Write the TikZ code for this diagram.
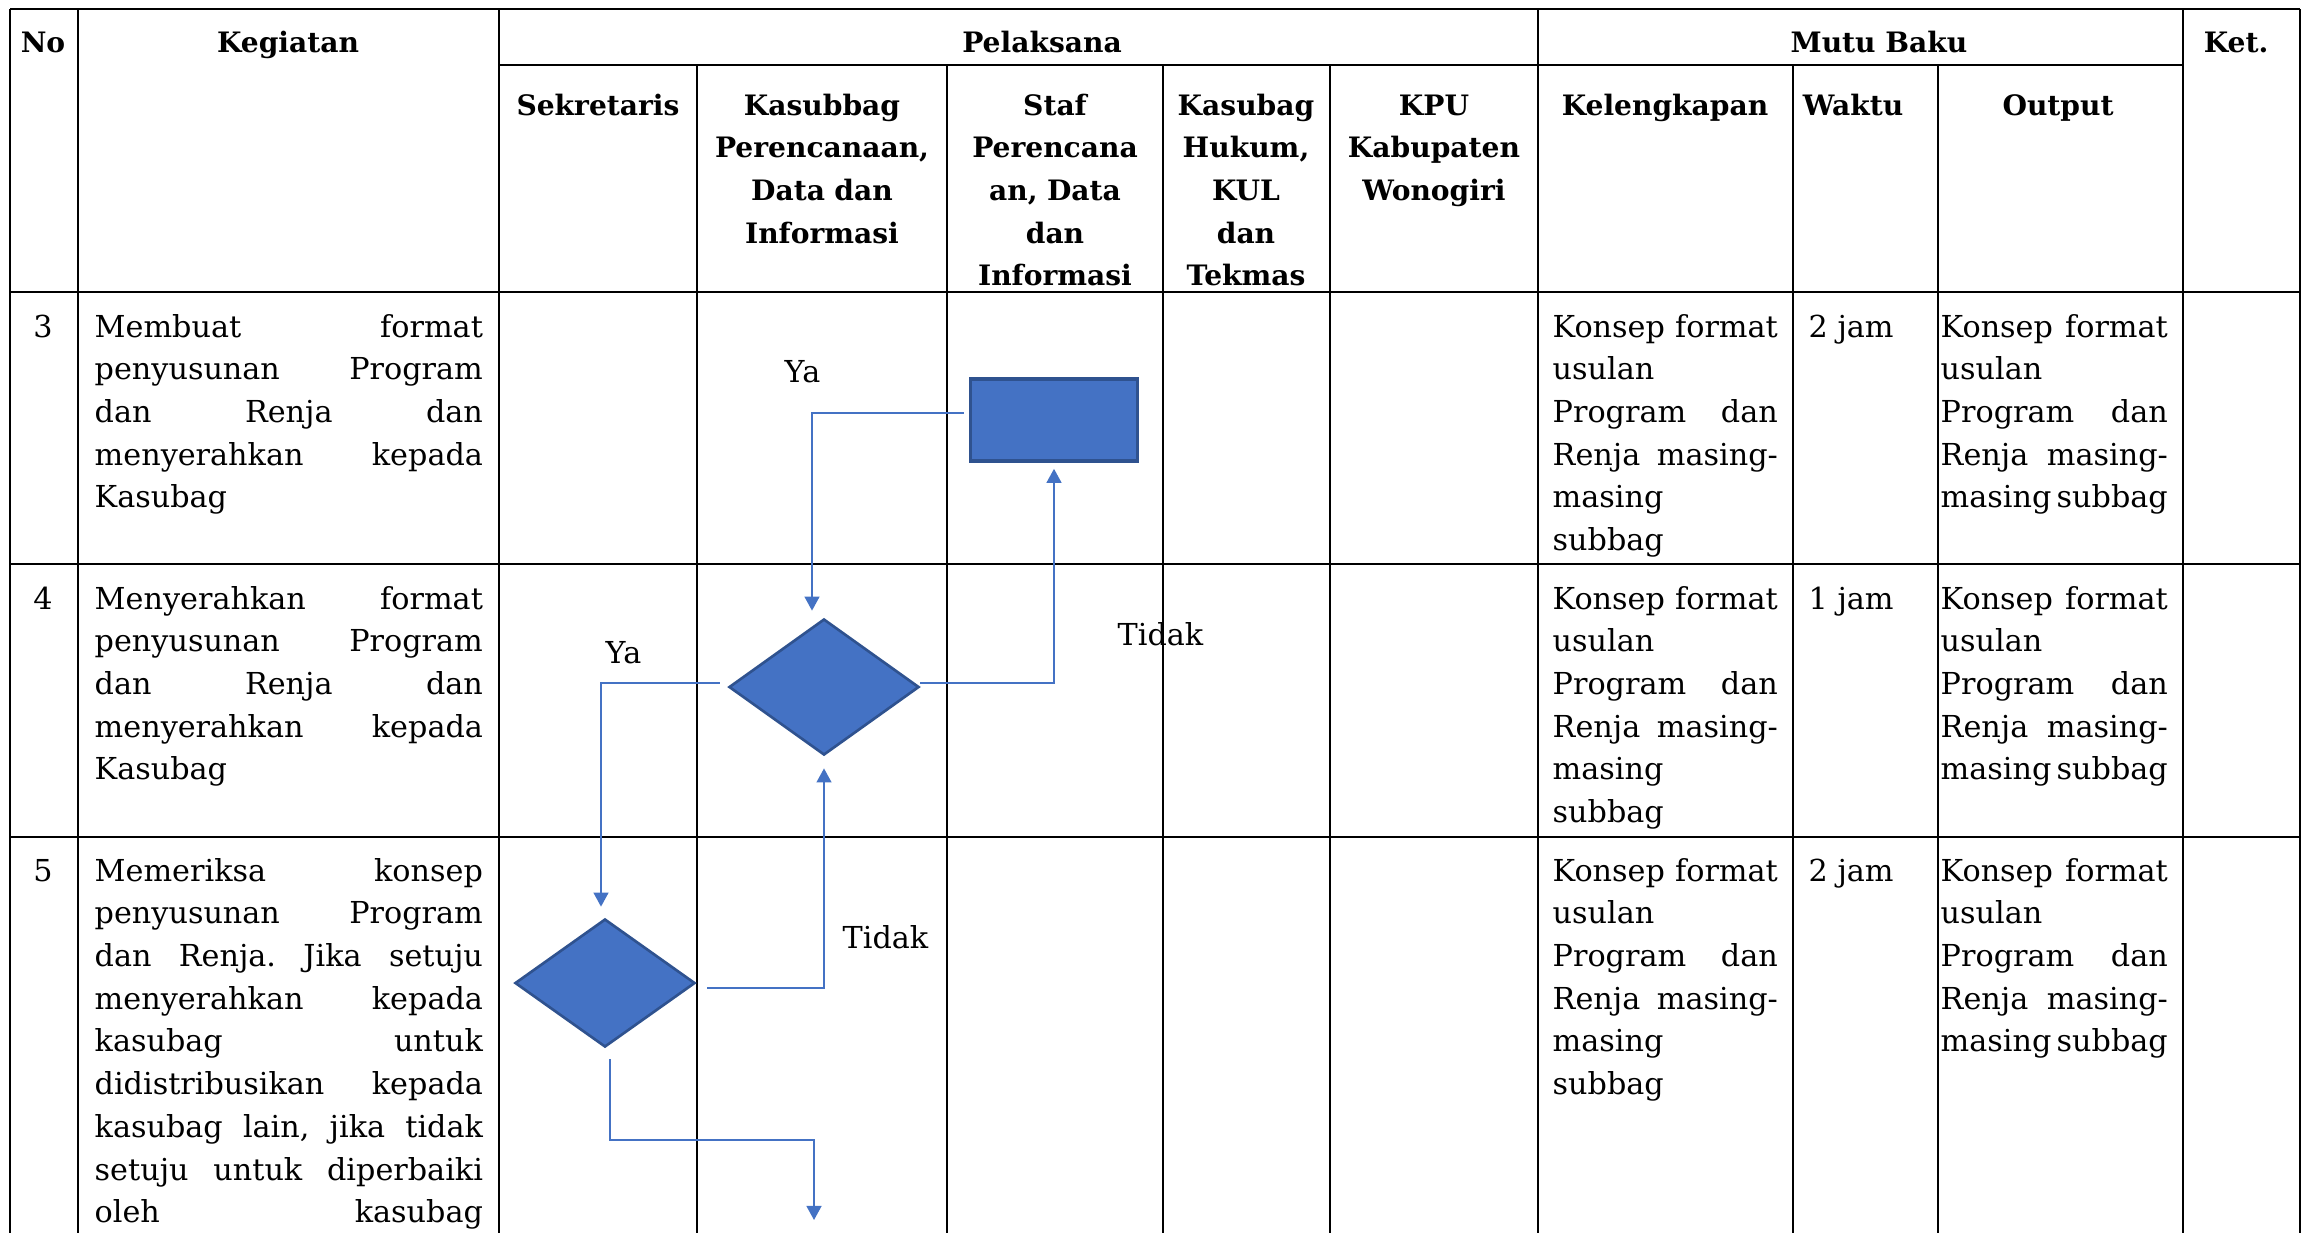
\documentclass[tikz,border=0pt]{standalone}
\usepackage{fontspec}
\setmainfont{DejaVu Serif}
\usepackage{tikz}
\usetikzlibrary{arrows.meta, positioning, shapes.geometric}

\definecolor{wordblue}{HTML}{4472C4}
\definecolor{wordedge}{HTML}{2F528F}

\begin{document}
\begin{tikzpicture}[
  x=0.01cm, y=-0.01cm,
  grid/.style={line width=0.75pt, black},
  txt/.style={font=\fontsize{8.6}{12.15}\selectfont, inner sep=0pt},
  hdr/.style={inner sep=0pt, font=\fontsize{8}{12.15}\selectfont\bfseries, anchor=base, align=center},
  cell/.style={txt, anchor=base west, align=left},
  proc/.style={rectangle, draw=wordedge, fill=wordblue, line width=1pt, minimum width=1.67cm, minimum height=0.82cm, inner sep=0pt},
  decide/.style={diamond, draw=wordedge, fill=wordblue, line width=0.75pt, inner sep=0pt},
  flow/.style={-{Triangle[length=4pt, width=4.2pt]}, draw=wordblue, line width=0.6pt},
]
  \useasboundingbox[fill=white] (0,0) rectangle (2310,1232);

  \draw[grid] (10,9) -- (2300,9);
  \draw[grid] (499,65) -- (2183,65);
  \draw[grid] (10,292) -- (2300,292);
  \draw[grid] (10,564) -- (2300,564);
  \draw[grid] (10,837) -- (2300,837);
  \draw[grid] (10,9) -- (10,1240);
  \draw[grid] (78,9) -- (78,1240);
  \draw[grid] (499,9) -- (499,1240);
  \draw[grid] (697,65) -- (697,1240);
  \draw[grid] (947,65) -- (947,1240);
  \draw[grid] (1163,65) -- (1163,1240);
  \draw[grid] (1330,65) -- (1330,1240);
  \draw[grid] (1538,9) -- (1538,1240);
  \draw[grid] (1793,65) -- (1793,1240);
  \draw[grid] (1938,65) -- (1938,1240);
  \draw[grid] (2183,9) -- (2183,1240);
  \draw[grid] (2300,9) -- (2300,1240);

  \node[hdr] (hno) at (43,52) {No};
  \node[hdr] (hkeg) at (288,52) {Kegiatan};
  \node[hdr] (hpel) at (1042,52) {Pelaksana};
  \node[hdr] (hmutu) at (1879,52) {Mutu Baku};
  \node[hdr] (hket) at (2236,52) {Ket.};

  \node[hdr, text width=1.95cm] (hsek) at (598,115) {Sekretaris};
  \node[hdr, text width=2.5cm] (hkasren) at (822,115) {Kasubbag\\Perencanaan,\\Data dan\\Informasi};
  \node[hdr, text width=2.16cm] (hstaf) at (1055,115) {Staf\\Perencana\\an, Data\\dan\\Informasi};
  \node[hdr, text width=1.67cm] (hkashuk) at (1246,115) {Kasubag\\Hukum,\\KUL\\dan\\Tekmas};
  \node[hdr, text width=2.08cm] (hkpu) at (1434,115) {KPU\\Kabupaten\\Wonogiri};
  \node[hdr] (hleng) at (1665,115) {Kelengkapan};
  \node[hdr] (hwaktu) at (1853,115) {Waktu};
  \node[hdr] (hout) at (2058,115) {Output};

  \node[txt, anchor=base] (no3) at (43,337) {3};
  \node[txt, anchor=base] (no4) at (43,609) {4};
  \node[txt, anchor=base] (no5) at (43,881) {5};

  \node[cell, text width=3.88cm] (keg3) at (94,337) {Membuat\hfill format\\penyusunan\hfill Program\\dan\hfill Renja\hfill dan\\menyerahkan\hfill kepada\\Kasubag};
  \node[cell, text width=3.88cm] (keg4) at (94,609) {Menyerahkan\hfill format\\penyusunan\hfill Program\\dan\hfill Renja\hfill dan\\menyerahkan\hfill kepada\\Kasubag};
  \node[cell, text width=3.88cm] (keg5) at (94,881) {Memeriksa\hfill konsep\\penyusunan\hfill Program\\dan\hfill Renja.\hfill Jika\hfill setuju\\menyerahkan\hfill kepada\\kasubag\hfill untuk\\didistribusikan\hfill kepada\\kasubag\hfill lain,\hfill jika\hfill tidak\\setuju\hfill untuk\hfill diperbaiki\\oleh\hfill kasubag};

  \node[cell, text width=2.25cm] (leng3) at (1552,337) {Konsep\hfill format\\usulan\\Program\hfill dan\\Renja\hfill masing-\\masing\\subbag};
  \node[cell, text width=2.25cm] (leng4) at (1552,609) {Konsep\hfill format\\usulan\\Program\hfill dan\\Renja\hfill masing-\\masing\\subbag};
  \node[cell, text width=2.25cm] (leng5) at (1552,881) {Konsep\hfill format\\usulan\\Program\hfill dan\\Renja\hfill masing-\\masing\\subbag};

  \node[cell] (waktu3) at (1808,337) {2 jam};
  \node[cell] (waktu4) at (1808,609) {1 jam};
  \node[cell] (waktu5) at (1808,881) {2 jam};

  \node[cell, text width=2.27cm] (out3) at (1940,337) {Konsep\hfill format\\usulan\\Program\hfill dan\\Renja\hfill masing-\\masing\hfill subbag};
  \node[cell, text width=2.27cm] (out4) at (1940,609) {Konsep\hfill format\\usulan\\Program\hfill dan\\Renja\hfill masing-\\masing\hfill subbag};
  \node[cell, text width=2.27cm] (out5) at (1940,881) {Konsep\hfill format\\usulan\\Program\hfill dan\\Renja\hfill masing-\\masing\hfill subbag};

  \node[proc] (proses) at (1054,420) {};
  \node[decide, minimum width=1.9cm, minimum height=1.36cm] (cek1) at (824,687) {};
  \node[decide, minimum width=1.8cm, minimum height=1.28cm] (cek2) at (605,983) {};
  \coordinate (lanjut) at (814,1220);

  \draw[flow, shorten <=0.05cm, shorten >=0.07cm] ([yshift=0.07cm]proses.west) -| ([xshift=-0.12cm]cek1.north);
  \draw[flow, shorten >=0.06cm] ([yshift=0.04cm]cek1.east) -| (proses.south);
  \draw[flow, shorten <=0.08cm, shorten >=0.11cm] ([yshift=0.04cm]cek1.west) -| ([xshift=-0.04cm]cek2.north);
  \draw[flow, shorten <=0.11cm, shorten >=0.12cm] ([yshift=-0.05cm]cek2.east) -| (cek1.south);
  \draw[flow, shorten <=0.11cm] ([xshift=0.05cm]cek2.south) -- ++(0,92) -| (lanjut);

  \node[txt, anchor=base west] (ya1) at (784,382) {Ya};
  \node[txt, anchor=base west] (tidak1) at (1117,645) {Tidak};
  \node[txt, anchor=base west] (ya2) at (605,663) {Ya};
  \node[txt, anchor=base west] (tidak2) at (842,948) {Tidak};
\end{tikzpicture}
\end{document}
